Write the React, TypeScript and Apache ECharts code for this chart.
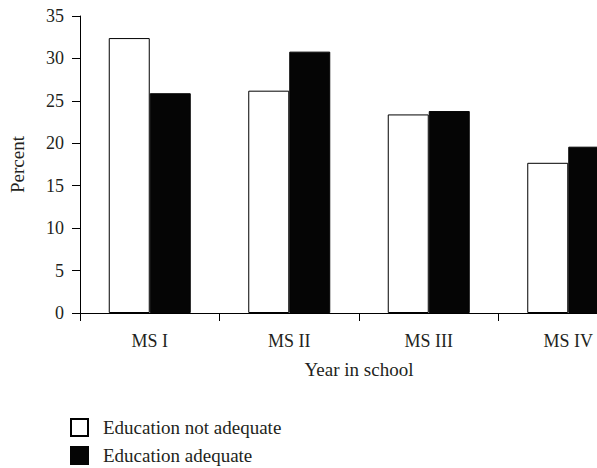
import React, { useEffect, useRef } from "react";
import * as echarts from "echarts";

const categories = ["MS I", "MS II", "MS III", "MS IV"];
const notAdequate = [32.4, 26.2, 23.4, 17.7];
const adequate = [25.9, 30.8, 23.8, 19.6];
const seriesNames = ["Education not adequate", "Education adequate"];
const yTicks = { min: 0, max: 35, interval: 5 };

const FONT = "Liberation Serif";
const TXT = "#231f20";

export default function App() {
  const ref = useRef<HTMLDivElement>(null);
  useEffect(() => {
    document.body.style.margin = "0";
    const chart = echarts.init(ref.current!, null, { renderer: "svg" });
    chart.setOption({
      animation: false,
      textStyle: { fontFamily: FONT, color: TXT },
      grid: { left: 79, top: 16, width: 559, height: 297, containLabel: false },
      legend: {
        orient: "vertical",
        left: 70,
        top: 418,
        padding: 0,
        itemWidth: 17,
        itemHeight: 17,
        itemGap: 9,
        icon: "rect",
        textStyle: {
          fontFamily: FONT,
          fontSize: 19,
          lineHeight: 17,
          color: TXT,
          padding: [0, 0, 0, 10],
        },
        data: seriesNames,
      },
      xAxis: {
        type: "category",
        data: categories,
        name: "Year in school",
        nameLocation: "middle",
        nameGap: 47,
        nameTextStyle: { fontFamily: FONT, fontSize: 19, color: TXT },
        axisLine: { lineStyle: { color: "#000", width: 1 } },
        axisTick: { show: true, length: 8, lineStyle: { color: "#000" } },
        axisLabel: { fontFamily: FONT, fontSize: 18, color: TXT, margin: 19 },
      },
      yAxis: {
        type: "value",
        min: yTicks.min,
        max: yTicks.max,
        interval: yTicks.interval,
        name: "Percent",
        nameLocation: "middle",
        nameGap: 53,
        nameRotate: 90,
        nameTextStyle: { fontFamily: FONT, fontSize: 19, color: TXT },
        axisLine: { show: true, lineStyle: { color: "#000", width: 1 } },
        axisTick: { show: true, length: 8, lineStyle: { color: "#000" } },
        splitLine: { show: false },
        axisLabel: { fontFamily: FONT, fontSize: 18, color: TXT, margin: 16 },
      },
      series: [
        {
          name: seriesNames[0],
          type: "bar",
          data: notAdequate,
          barWidth: 41,
          barGap: "0%",
          itemStyle: { color: "#ffffff", borderColor: "#000", borderWidth: 1 },
        },
        {
          name: seriesNames[1],
          type: "bar",
          data: adequate,
          barWidth: 41,
          barGap: "0%",
          itemStyle: { color: "#050505", borderColor: "#050505", borderWidth: 1 },
        },
      ],
    });
    return () => chart.dispose();
  }, []);
  return (
    <div style={{ width: 597, height: 468, overflow: "hidden", position: "relative" }}>
      <div ref={ref} style={{ width: 640, height: 468 }} />
    </div>
  );
}
